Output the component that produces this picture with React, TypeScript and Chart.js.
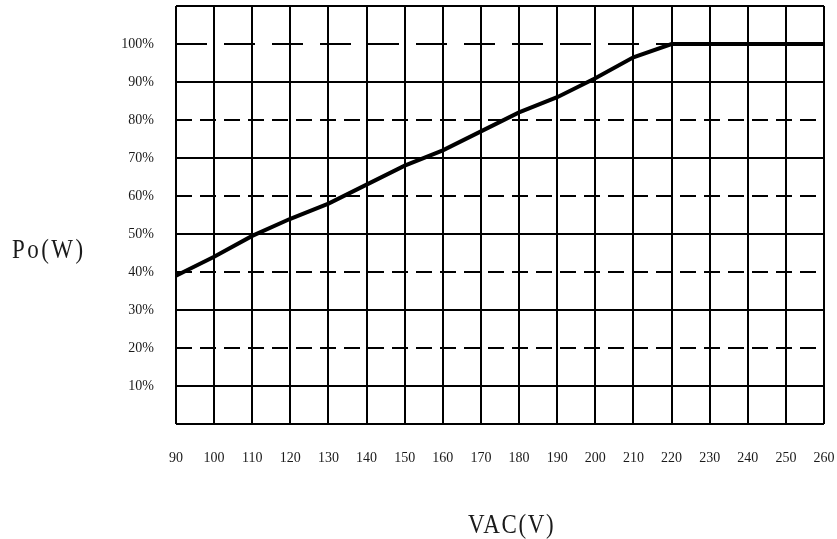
import React, { useEffect, useRef } from 'react';
import { Chart, registerables } from 'chart.js';

Chart.register(...registerables);

const VOLTAGES = [90, 100, 110, 120, 130, 140, 150, 160, 170, 180, 190, 200, 210, 220, 230, 240, 250, 260];
const LOAD_PERCENT = [39, 44, 49.5, 54, 58, 63, 68, 72, 77, 82, 86, 91, 96.5, 100, 100, 100, 100, 100];
const Y_MIN = 0;
const Y_MAX = 110;
const Y_STEP = 10;
const X_MIN = 90;
const X_MAX = 260;
const X_STEP = 10;
const X_TITLE = 'VAC(V)';
const Y_TITLE = 'Po(W)';

const gridPlugin = {
  id: 'customGrid',
  beforeDatasetsDraw(chart: any) {
    const { ctx, chartArea, scales } = chart;
    const { left, right, top, bottom } = chartArea;
    const xs = scales.x;
    const ys = scales.y;
    ctx.save();
    ctx.strokeStyle = '#000';
    ctx.lineWidth = 2;
    xs.ticks.forEach((t: any) => {
      const px = Math.round(xs.getPixelForValue(t.value));
      ctx.setLineDash([]);
      ctx.beginPath();
      ctx.moveTo(px, top);
      ctx.lineTo(px, bottom);
      ctx.stroke();
    });
    ys.ticks.forEach((t: any) => {
      const v = t.value;
      const py = Math.round(ys.getPixelForValue(v));
      let dash: number[] = [];
      if (v === 100) dash = [31, 17];
      else if (v > 0 && v < 100 && v % 20 === 0) dash = [16, 8];
      ctx.setLineDash(dash);
      ctx.beginPath();
      ctx.moveTo(left, py);
      ctx.lineTo(right, py);
      ctx.stroke();
    });
    ctx.restore();
  },
};

export default function App() {
  const ref = useRef<HTMLCanvasElement>(null);
  useEffect(() => {
    if (!ref.current) return;
    const chart = new Chart(ref.current, {
      type: 'line',
      data: {
        datasets: [
          {
            data: VOLTAGES.map((v, i) => ({ x: v, y: LOAD_PERCENT[i] })),
            borderColor: '#000',
            borderWidth: 4,
            pointRadius: 0,
            tension: 0,
            fill: false,
          },
        ],
      },
      options: {
        responsive: false,
        animation: false,
        layout: { padding: { top: 6, right: 13, left: 0, bottom: 0 } },
        plugins: { legend: { display: false }, tooltip: { enabled: false } },
        scales: {
          x: {
            type: 'linear',
            min: X_MIN,
            max: X_MAX,
            grid: { display: false, drawTicks: false },
            border: { display: false },
            ticks: {
              stepSize: X_STEP,
              autoSkip: false,
              maxRotation: 0,
              padding: 26,
              color: '#1a1a1a',
              font: { family: 'Liberation Serif', size: 14 },
            },
            afterFit: (s: any) => {
              s.height = 115;
              s.paddingLeft = 0;
              s.paddingRight = 0;
            },
          },
          y: {
            type: 'linear',
            min: Y_MIN,
            max: Y_MAX,
            grid: { display: false, drawTicks: false },
            border: { display: false },
            ticks: {
              stepSize: Y_STEP,
              autoSkip: false,
              padding: 22,
              color: '#1a1a1a',
              font: { family: 'Liberation Serif', size: 14 },
              callback: (v: any) => (v >= 10 && v <= 100 ? `${v}%` : ''),
            },
            afterFit: (s: any) => {
              s.width = 176;
              s.paddingTop = 0;
              s.paddingBottom = 0;
            },
          },
        },
      },
      plugins: [gridPlugin],
    });
    return () => chart.destroy();
  }, []);

  const titleStyle: React.CSSProperties = {
    position: 'absolute',
    fontFamily: 'Liberation Serif',
    fontSize: 28,
    lineHeight: '28px',
    color: '#1a1a1a',
    whiteSpace: 'nowrap',
    transformOrigin: 'left top',
  };

  return (
    <div style={{ position: 'absolute', left: 0, top: 0, width: 837, height: 539, background: '#fff' }}>
      <canvas ref={ref} width={837} height={539} style={{ position: 'absolute', left: 0, top: 0 }} />
      <div style={{ ...titleStyle, left: 12, top: 235, letterSpacing: 3, transform: 'scaleX(0.82)' }}>{Y_TITLE}</div>
      <div style={{ ...titleStyle, left: 468, top: 510, letterSpacing: 2, transform: 'scaleX(0.82)' }}>{X_TITLE}</div>
    </div>
  );
}
